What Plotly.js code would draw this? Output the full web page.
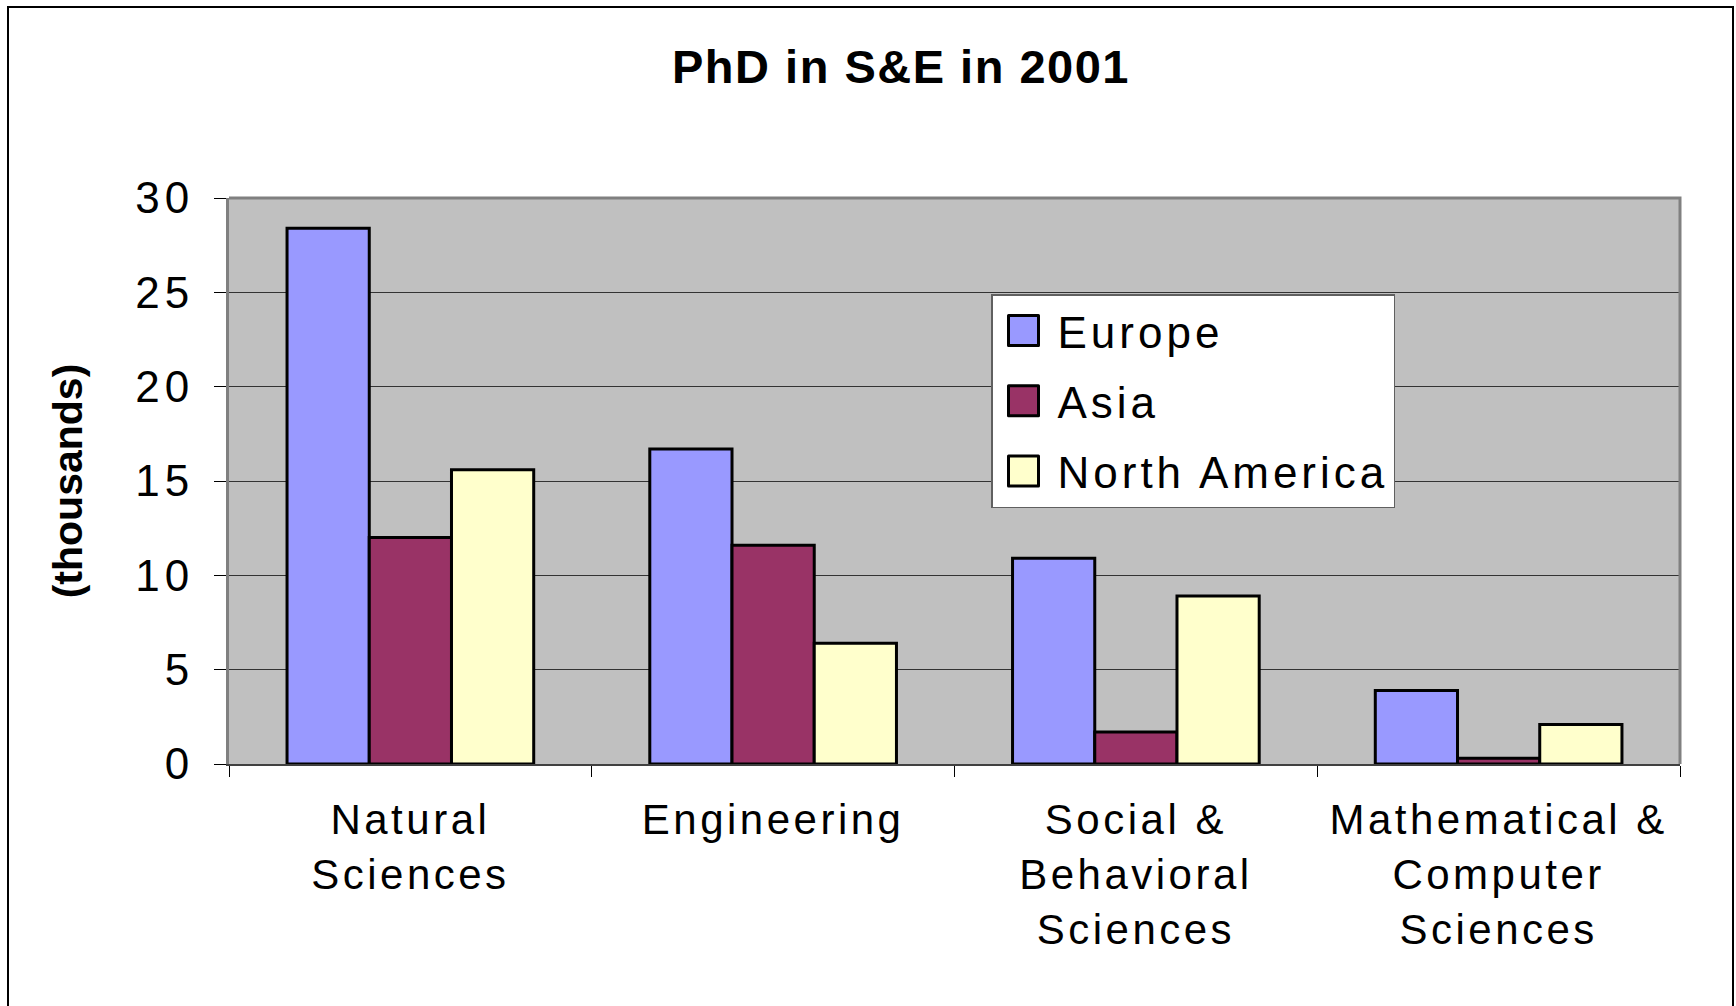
<!DOCTYPE html>
<html>
<head>
<meta charset="utf-8">
<script src="https://cdn.plot.ly/plotly-3.0.1.min.js"></script>
<style>
  html, body { margin: 0; padding: 0; background: #ffffff; }
  #chart { width: 1736px; height: 1006px; }
  .xtick text { letter-spacing: 3.5px; }
  .ytick text { letter-spacing: 5px; }
  text.legendtext { letter-spacing: 4px; }
  .gtitle { letter-spacing: 1.5px; }
</style>
</head>
<body>
<div id="chart"></div>
<script>
// ---- data ----
const categories = ["Natural<br>Sciences", "Engineering", "Social &<br>Behavioral<br>Sciences", "Mathematical &<br>Computer<br>Sciences"];
const seriesNames = ["Europe", "Asia", "North America"];
const europe = [28.4, 16.7, 10.9, 3.9];
const asia = [12.0, 11.6, 1.7, 0.3];
const northAmerica = [15.6, 6.4, 8.9, 2.1];
const yTickValues = [0, 5, 10, 15, 20, 25, 30];
const yTickLabels = ["0", "5", "10", "15", "20", "25", "30"];

// ---- styles ----
const colors = ["#9999FF", "#993366", "#FFFFCC"];
const FONT = "Liberation Sans, Arial, Helvetica, sans-serif";
const W = 1736, H = 1006;
const M = { l: 229, r: 56, t: 198, b: 242 };
const PW = W - M.l - M.r, PH = H - M.t - M.b;
const px = x => (x - M.l) / PW;
const py = y => (H - M.b - y) / PH;

const values = [europe, asia, northAmerica];
const traces = values.map((v, i) => ({
  type: "bar",
  name: seriesNames[i],
  x: categories,
  y: v,
  legendgroup: "g" + i,
  marker: { color: colors[i], line: { color: "#000000", width: 3 } },
  hoverinfo: "x+y+name"
}));

const layout = {
  width: W, height: H,
  margin: M,
  paper_bgcolor: "#ffffff",
  plot_bgcolor: "#C0C0C0",
  font: { family: FONT, color: "#000000", size: 42 },
  title: {
    text: "PhD in S&E in 2001",
    font: { family: FONT, size: 47, weight: "bold", color: "#000000" },
    x: 901 / W, xref: "container", xanchor: "center",
    y: 1 - 67 / H, yref: "container", yanchor: "middle"
  },
  barmode: "group",
  bargap: 0.32,
  bargroupgap: 0,
  xaxis: {
    type: "category",
    tickson: "boundaries",
    ticks: "outside", ticklen: 11, tickwidth: 1, tickcolor: "#000000",
    showline: true, linecolor: "#404040", linewidth: 2,
    showgrid: false,
    tickfont: { family: FONT, size: 42, color: "#000000" },
    ticklabelstandoff: 18,
    fixedrange: true
  },
  yaxis: {
    range: [0, 30],
    tickvals: yTickValues, ticktext: yTickLabels,
    ticks: "outside", ticklen: 12, tickwidth: 1, tickcolor: "#000000",
    showline: true, linecolor: "#808080", linewidth: 3,
    showgrid: true, gridcolor: "#333333", gridwidth: 1,
    zeroline: false,
    tickfont: { family: FONT, size: 44, color: "#000000" },
    ticklabelstandoff: 11,
    title: { text: "(thousands)", font: { family: FONT, size: 41, weight: "bold", color: "#000000" }, standoff: 40 },
    fixedrange: true
  },
  legend: {
    x: px(991), y: py(294), xanchor: "left", yanchor: "top",
    bgcolor: "#ffffff", bordercolor: "#606060", borderwidth: 1.5,
    font: { family: FONT, size: 44, color: "#000000" },
    traceorder: "grouped",
    tracegroupgap: 10,
    itemwidth: 55
  },
  showlegend: true,
  shapes: [
    { type: "path", xref: "paper", yref: "paper", path: "M 0 1 L 1 1 L 1 0",
      line: { color: "#808080", width: 3 } },
    { type: "rect", xref: "paper", yref: "paper",
      x0: px(8), x1: px(1733), y0: py(1030), y1: py(7),
      line: { color: "#000000", width: 2 }, fillcolor: "rgba(0,0,0,0)" }
  ]
};

Plotly.newPlot("chart", traces, layout, { displayModeBar: false, staticPlot: true }).then(gd => {
  const SCALE = 2.5;
  gd.querySelectorAll(".legend .traces").forEach(tr => {
    const p = tr.querySelector(".legendpoints path");
    const t = tr.querySelector("text.legendtext");
    if (!p || !t) return;
    const orig = p.getAttribute("transform") || "";
    const bb = p.getBBox();
    const cx = bb.x + bb.width / 2, cy = bb.y + bb.height / 2;
    const pr = p.getBoundingClientRect();
    const trc = t.getBoundingClientRect();
    const curCx = pr.left + pr.width / 2;
    const wantCx = trc.left - 19 - 15;
    const dx = wantCx - curCx;
    p.setAttribute("transform",
      `translate(${dx},0) ${orig} translate(${cx},${cy}) scale(${SCALE}) translate(${-cx},${-cy})`);
    p.style.strokeWidth = (3 / SCALE) + "px";
    p.style.strokeLinejoin = "round";
  });
});
</script>
</body>
</html>
